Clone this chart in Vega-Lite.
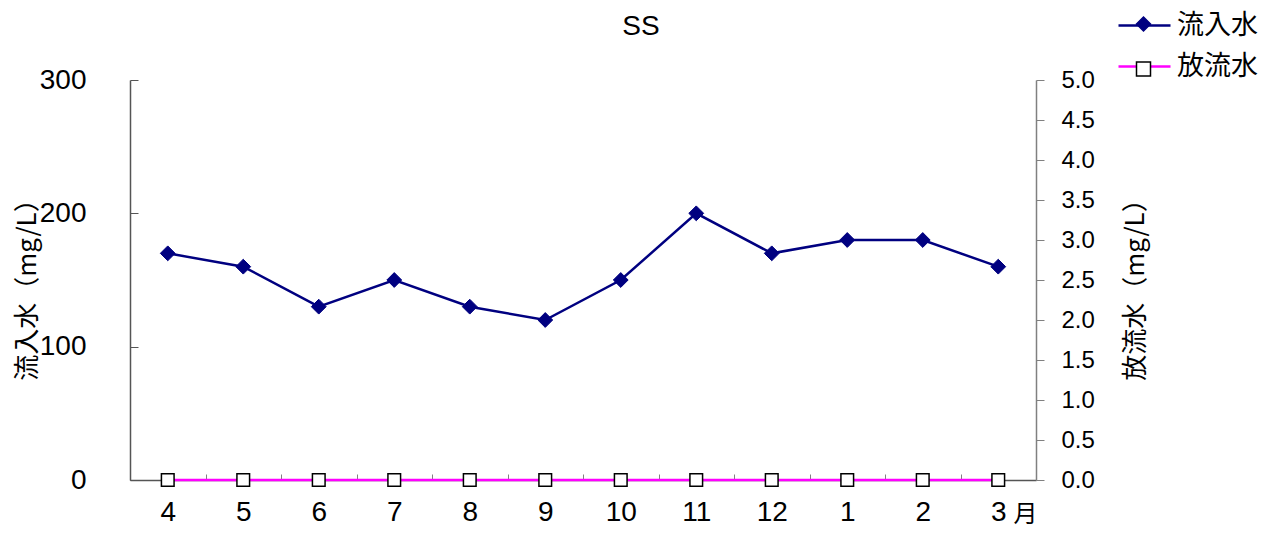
{
  "$schema": "https://vega.github.io/schema/vega-lite/v6.json",
  "width": 906,
  "height": 400,
  "autosize": {"type": "none"},
  "padding": {"left": 130, "top": 80, "right": 236, "bottom": 53},
  "background": "white",
  "title": {"text": "SS", "font": "Liberation Sans", "fontSize": 28, "fontWeight": "normal", "color": "black", "anchor": "middle", "dx": 58, "dy": 43, "offset": 0},
  "config": {"view": {"stroke": null}},
  "data": {"values": [
    {"month": "4", "series": "流入水", "marker": "流入水", "value": 170},
    {"month": "5", "series": "流入水", "marker": "流入水", "value": 160},
    {"month": "6", "series": "流入水", "marker": "流入水", "value": 130},
    {"month": "7", "series": "流入水", "marker": "流入水", "value": 150},
    {"month": "8", "series": "流入水", "marker": "流入水", "value": 130},
    {"month": "9", "series": "流入水", "marker": "流入水", "value": 120},
    {"month": "10", "series": "流入水", "marker": "流入水", "value": 150},
    {"month": "11", "series": "流入水", "marker": "流入水", "value": 200},
    {"month": "12", "series": "流入水", "marker": "流入水", "value": 170},
    {"month": "1", "series": "流入水", "marker": "流入水", "value": 180},
    {"month": "2", "series": "流入水", "marker": "流入水", "value": 180},
    {"month": "3", "series": "流入水", "marker": "流入水", "value": 160},
    {"month": "4", "series": "放流水", "marker": "放流水", "value": 0},
    {"month": "5", "series": "放流水", "marker": "放流水", "value": 0},
    {"month": "6", "series": "放流水", "marker": "放流水", "value": 0},
    {"month": "7", "series": "放流水", "marker": "放流水", "value": 0},
    {"month": "8", "series": "放流水", "marker": "放流水", "value": 0},
    {"month": "9", "series": "放流水", "marker": "放流水", "value": 0},
    {"month": "10", "series": "放流水", "marker": "放流水", "value": 0},
    {"month": "11", "series": "放流水", "marker": "放流水", "value": 0},
    {"month": "12", "series": "放流水", "marker": "放流水", "value": 0},
    {"month": "1", "series": "放流水", "marker": "放流水", "value": 0},
    {"month": "2", "series": "放流水", "marker": "放流水", "value": 0},
    {"month": "3", "series": "放流水", "marker": "放流水", "value": 0}
  ]},
  "encoding": {
    "x": {
      "field": "month", "type": "nominal",
      "sort": ["4","5","6","7","8","9","10","11","12","1","2","3"],
      "scale": {"paddingInner": 0, "paddingOuter": 0},
      "axis": {
        "title": "月", "titleFont": "Noto Sans CJK JP", "titleFontSize": 24, "titleFontWeight": "normal", "titleColor": "black",
        "titleX": 895, "titleY": 34, "titleAlign": "center", "titleBaseline": "middle",
        "labelAngle": 0, "labelFont": "Liberation Sans", "labelFontSize": 28, "labelColor": "black", "labelPadding": 24,
        "tickBand": "extent", "tickSize": -6, "tickColor": "#808080", "tickWidth": 1,
        "domainColor": "#555555", "domainWidth": 1.5, "grid": false
      }
    }
  },
  "layer": [
    {
      "transform": [{"filter": "datum.series === '流入水'"}],
      "encoding": {
        "y": {
          "field": "value", "type": "quantitative",
          "scale": {"domain": [0, 300], "nice": false, "zero": true},
          "axis": {
            "orient": "left", "values": [0, 100, 200, 300],
            "title": "流入水（mg/L）", "titleFont": "Noto Sans CJK JP", "titleFontSize": 26, "titleFontWeight": "normal", "titleColor": "black",
            "titleAngle": -90, "titleX": -103, "titleY": 203, "titleAlign": "center", "titleBaseline": "middle",
            "labelFont": "Liberation Sans", "labelFontSize": 28, "labelColor": "black", "labelPadding": 52,
            "tickSize": -8, "tickColor": "#555555", "domainColor": "#555555", "domainWidth": 1.5, "grid": false
          }
        }
      },
      "layer": [
        {
          "mark": {"type": "line", "strokeWidth": 2.5},
          "encoding": {
            "color": {
              "field": "series", "type": "nominal",
              "scale": {"domain": ["流入水", "放流水"], "range": ["#000080", "#FF00FF"]},
              "legend": {
                "title": null, "orient": "none", "legendX": 987, "legendY": -82, "padding": 0,
                "symbolType": "stroke", "symbolSize": 2704, "symbolStrokeWidth": 2.5,
                "labelFont": "Noto Sans CJK JP", "labelFontSize": 27, "labelColor": "black", "labelOffset": 5, "labelLimit": 200,
                "rowPadding": -8
              }
            }
          }
        },
        {
          "mark": {"type": "point", "filled": true, "strokeWidth": 1, "size": 220, "opacity": 1},
          "encoding": {
            "shape": {
              "field": "marker", "type": "nominal",
              "scale": {"range": ["square", "diamond"]},
              "legend": {
                "title": null, "orient": "none", "legendX": 1005.5, "legendY": -64, "padding": 0,
                "values": ["流入水", "放流水"],
                "symbolSize": 196, "symbolStrokeWidth": 1.5,
                "labelExpr": "''", "labelFontSize": 1, "labelOffset": 0,
                "rowPadding": 25
              }
            },
            "fill": {"field": "marker", "type": "nominal", "scale": {"range": ["#FFFFFF", "#000080"]}},
            "stroke": {"field": "marker", "type": "nominal", "scale": {"range": ["#000000", "#000080"]}}
          }
        }
      ]
    },
    {
      "transform": [{"filter": "datum.series === '放流水'"}],
      "encoding": {
        "y": {
          "field": "value", "type": "quantitative",
          "scale": {"domain": [0, 5], "nice": false, "zero": true},
          "axis": {
            "orient": "right", "values": [0, 0.5, 1, 1.5, 2, 2.5, 3, 3.5, 4, 4.5, 5], "format": ".1f",
            "title": "放流水（mg/L）", "titleFont": "Noto Sans CJK JP", "titleFontSize": 26, "titleFontWeight": "normal", "titleColor": "black",
            "titleAngle": -90, "titleX": 99, "titleY": 203, "titleAlign": "center", "titleBaseline": "middle",
            "labelFont": "Liberation Sans", "labelFontSize": 24, "labelColor": "black", "labelPadding": 17,
            "tickSize": 8, "tickColor": "#808080", "domainColor": "#808080", "domainWidth": 1.5, "grid": false
          }
        }
      },
      "layer": [
        {
          "mark": {"type": "line", "strokeWidth": 2.5},
          "encoding": {
            "color": {"field": "series", "type": "nominal", "scale": {"domain": ["流入水", "放流水"], "range": ["#000080", "#FF00FF"]}}
          }
        },
        {
          "mark": {"type": "point", "filled": true, "strokeWidth": 1.5, "size": 160, "opacity": 1},
          "encoding": {
            "shape": {"field": "marker", "type": "nominal", "scale": {"range": ["square", "diamond"]}},
            "fill": {"field": "marker", "type": "nominal", "scale": {"range": ["#FFFFFF", "#000080"]}},
            "stroke": {"field": "marker", "type": "nominal", "scale": {"range": ["#000000", "#000080"]}}
          }
        }
      ]
    }
  ],
  "resolve": {"scale": {"y": "independent"}, "axis": {"y": "independent"}}
}
